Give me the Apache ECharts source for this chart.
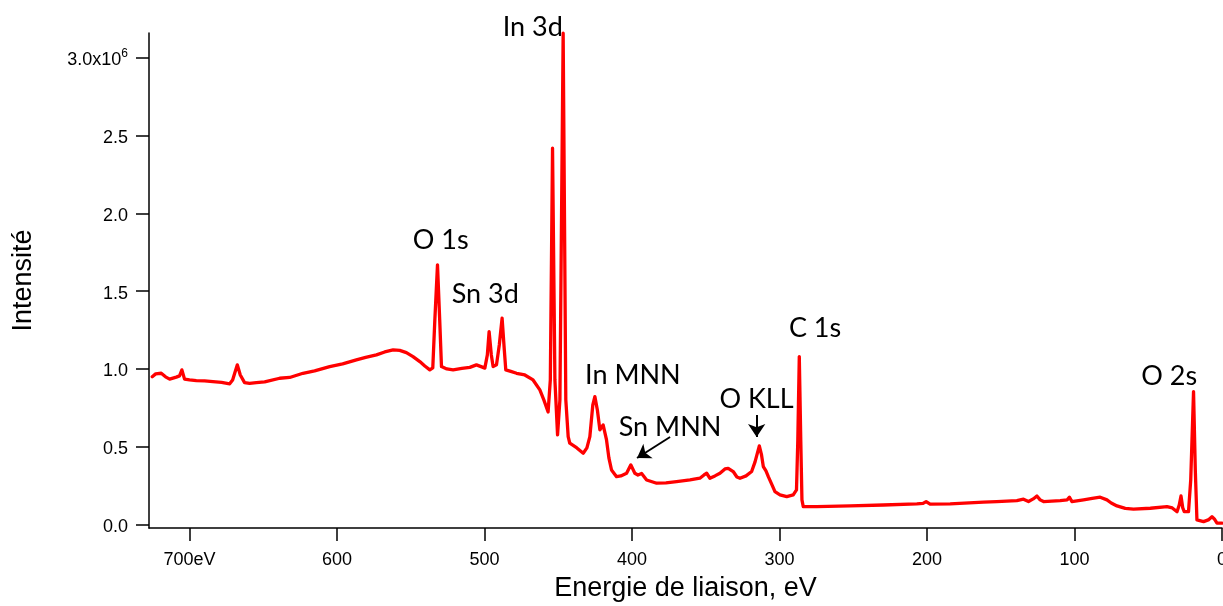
<!DOCTYPE html>
<html>
<head>
<meta charset="utf-8">
<script src="https://cdn.jsdelivr.net/npm/echarts@6/dist/echarts.min.js"></script>
<style>
html,body{margin:0;padding:0;background:#fff;}
#chart{width:1223px;height:606px;}
</style>
</head>
<body>
<div id="chart"></div>
<script>
// Binding energy (eV)
const energy = [725.3, 723.0, 719.2, 716.3, 713.5, 709.0, 706.8, 705.2, 703.4, 700.0,
  695.4, 689.8, 684.2, 678.3, 672.8, 670.8, 669.4, 667.6, 665.6, 662.7,
  659.3, 654.7, 649.1, 638.9, 632.1, 623.1, 615.2, 605.0, 596.2, 586.9,
  580.6, 573.3, 567.7, 562.0, 557.5, 553.0, 548.5, 543.9, 540.5, 537.1,
  535.1, 533.7, 531.9, 530.4, 529.2, 525.6, 521.3, 515.4, 510.0, 505.5,
  501.9, 499.8, 498.1, 496.9, 495.4, 494.2, 491.9, 490.0, 488.1, 486.6,
  485.6, 482.2, 478.3, 472.7, 467.1, 462.5, 459.8, 456.9, 455.4, 453.9,
  452.3, 450.5, 448.9, 446.7, 444.9, 443.3, 442.2, 437.4, 433.1, 430.6,
  428.6, 426.6, 425.2, 423.5, 421.8, 419.6, 417.3, 415.7, 413.9, 410.5,
  407.6, 403.7, 400.8, 398.1, 396.0, 393.5, 390.1, 383.3, 377.0, 369.8,
  360.7, 354.0, 351.2, 349.4, 347.2, 343.8, 340.4, 337.0, 334.8, 331.4,
  328.9, 326.8, 322.7, 318.9, 316.6, 313.7, 312.2, 311.0, 309.2, 307.6,
  305.1, 303.1, 299.7, 295.1, 290.7, 288.5, 287.6, 286.6, 285.6, 284.8,
  283.9, 274.8, 252.2, 229.6, 206.9, 202.7, 200.6, 197.9, 184.3, 161.7,
  152.7, 139.1, 134.6, 131.2, 128.0, 125.5, 123.3, 121.0, 109.7, 105.0,
  103.4, 101.8, 93.9, 88.0, 82.6, 78.0, 75.1, 71.2, 65.6, 60.0,
  48.6, 37.3, 33.7, 30.5, 29.0, 27.8, 26.6, 25.6, 22.7, 21.2,
  19.3, 18.1, 17.0, 12.5, 9.3, 6.8, 5.2, 3.4, 0.0];

// Intensity (x10^6)
const intensity = [0.950, 0.968, 0.972, 0.949, 0.934, 0.947, 0.955, 0.994, 0.934, 0.929,
  0.925, 0.923, 0.918, 0.913, 0.904, 0.929, 0.972, 1.026, 0.961, 0.912,
  0.907, 0.912, 0.916, 0.940, 0.945, 0.972, 0.987, 1.015, 1.032, 1.058,
  1.074, 1.090, 1.109, 1.122, 1.119, 1.105, 1.079, 1.047, 1.019, 0.994,
  1.006, 1.315, 1.669, 1.315, 1.015, 1.000, 0.994, 1.003, 1.010, 1.026,
  1.013, 1.005, 1.090, 1.240, 1.090, 1.015, 1.026, 1.154, 1.326, 1.122,
  0.994, 0.984, 0.972, 0.961, 0.929, 0.865, 0.801, 0.723, 0.929, 2.419,
  0.929, 0.576, 0.801, 3.159, 0.801, 0.565, 0.522, 0.492, 0.458, 0.492,
  0.565, 0.768, 0.822, 0.736, 0.608, 0.640, 0.543, 0.428, 0.350, 0.307,
  0.312, 0.329, 0.383, 0.329, 0.318, 0.328, 0.286, 0.265, 0.267, 0.275,
  0.286, 0.297, 0.318, 0.329, 0.297, 0.312, 0.329, 0.357, 0.361, 0.340,
  0.305, 0.297, 0.312, 0.340, 0.402, 0.505, 0.447, 0.372, 0.344, 0.307,
  0.254, 0.211, 0.190, 0.179, 0.190, 0.222, 0.543, 1.079, 0.543, 0.158,
  0.114, 0.114, 0.119, 0.125, 0.132, 0.135, 0.147, 0.130, 0.132, 0.143,
  0.147, 0.153, 0.162, 0.147, 0.164, 0.183, 0.158, 0.147, 0.153, 0.158,
  0.175, 0.147, 0.158, 0.167, 0.175, 0.158, 0.138, 0.119, 0.103, 0.098,
  0.104, 0.114, 0.106, 0.082, 0.125, 0.183, 0.106, 0.082, 0.082, 0.286,
  0.854, 0.350, 0.029, 0.018, 0.029, 0.050, 0.035, 0.008, 0.008];

const xTicks = [0, 100, 200, 300, 400, 500, 600, 700];
const yTicks = [0, 0.5, 1.0, 1.5, 2.0, 2.5, 3.0];

// Peak annotations: label text and its centre in data coordinates (eV, x10^6)
const annLabels = ['In 3d', 'O 1s', 'Sn 3d', 'In MNN', 'Sn MNN', 'O KLL', 'C 1s', 'O 2s'];
const annEnergy = [467.3, 529.7, 499.5, 399.4, 374.2, 315.6, 275.9, 35.8];
const annIntensity = [3.195, 1.828, 1.478, 0.960, 0.626, 0.806, 1.262, 0.954];

// Arrows: [tailEnergy, tailIntensity, headEnergy, headIntensity]
const arrowSnMNN = [374.2, 0.562, 396.6, 0.427];
const arrowOKLL = [315.5, 0.704, 315.5, 0.562];

const FONT = 'Liberation Sans, Arial, sans-serif';

const chart = echarts.init(document.getElementById('chart'), null, {renderer: 'canvas'});

const seriesData = energy.map((e, i) => [e, intensity[i]]);

const option = {
  animation: false,
  backgroundColor: '#ffffff',
  grid: {left: 149, right: 1, top: 33, bottom: 78, containLabel: false, outerBoundsMode: 'none'},
  xAxis: {
    type: 'value',
    inverse: true,
    min: 0,
    max: 727.5,
    name: 'Energie de liaison, eV',
    nameLocation: 'middle',
    nameGap: 47,
    nameTextStyle: {fontFamily: FONT, fontSize: 27, color: '#000'},
    axisLine: {show: true, onZero: false, lineStyle: {color: '#000', width: 1.5}},
    axisTick: {show: true, inside: false, length: 13, customValues: xTicks,
      lineStyle: {color: '#000', width: 1.5}},
    axisLabel: {show: true, customValues: xTicks, margin: 23,
      fontFamily: FONT, fontSize: 18, color: '#000', hideOverlap: false,
      formatter: v => (v === 700 ? '700eV' : String(v))},
    splitLine: {show: false},
    minorTick: {show: false}
  },
  yAxis: {
    type: 'value',
    min: -0.023,
    max: 3.160,
    name: 'Intensité',
    nameLocation: 'middle',
    nameGap: 112,
    nameRotate: 90,
    nameTextStyle: {fontFamily: FONT, fontSize: 27, color: '#000'},
    axisLine: {show: true, onZero: false, lineStyle: {color: '#000', width: 1.5}},
    axisTick: {show: true, inside: false, length: 13, customValues: yTicks,
      lineStyle: {color: '#000', width: 1.5}},
    axisLabel: {show: true, customValues: yTicks, margin: 21,
      fontFamily: FONT, fontSize: 18, color: '#000', padding: [5, 0, 0, 0],
      formatter: v => (Math.abs(v - 3) < 1e-9 ? '{m|3.0x10}{s|6}' : v.toFixed(1)),
      rich: {
        m: {fontFamily: FONT, fontSize: 18, color: '#000', lineHeight: 26},
        s: {fontFamily: FONT, fontSize: 12, color: '#000', verticalAlign: 'top', lineHeight: 14}
      }},
    splitLine: {show: false}
  },
  series: [{
    type: 'line',
    data: seriesData,
    showSymbol: false,
    symbol: 'none',
    smooth: false,
    lineStyle: {color: '#ff0000', width: 3.3, join: 'round', cap: 'round'},
    itemStyle: {color: '#ff0000'},
    silent: true,
    clip: false,
    markLine: {
      silent: true,
      animation: false,
      symbol: ['none', 'arrow'],
      symbolSize: 13,
      label: {show: false},
      lineStyle: {color: '#000', width: 2, type: 'solid'},
      emphasis: {disabled: true},
      data: [
        [{coord: [arrowSnMNN[0], arrowSnMNN[1]]}, {coord: [arrowSnMNN[2], arrowSnMNN[3]]}],
        [{coord: [arrowOKLL[0], arrowOKLL[1]]}, {coord: [arrowOKLL[2], arrowOKLL[3]]}]
      ]
    }
  }]
};

chart.setOption(option);

const graphics = annLabels.map((t, i) => {
  const p = chart.convertToPixel({gridIndex: 0}, [annEnergy[i], annIntensity[i]]);
  return {
    type: 'text',
    x: p[0],
    y: p[1],
    silent: true,
    style: {
      text: t,
      fontFamily: 'Lato, "Open Sans", sans-serif',
      fontSize: 27,
      fill: '#000',
      align: 'center',
      verticalAlign: 'middle'
    }
  };
});
chart.setOption({graphic: graphics});
</script>
</body>
</html>
